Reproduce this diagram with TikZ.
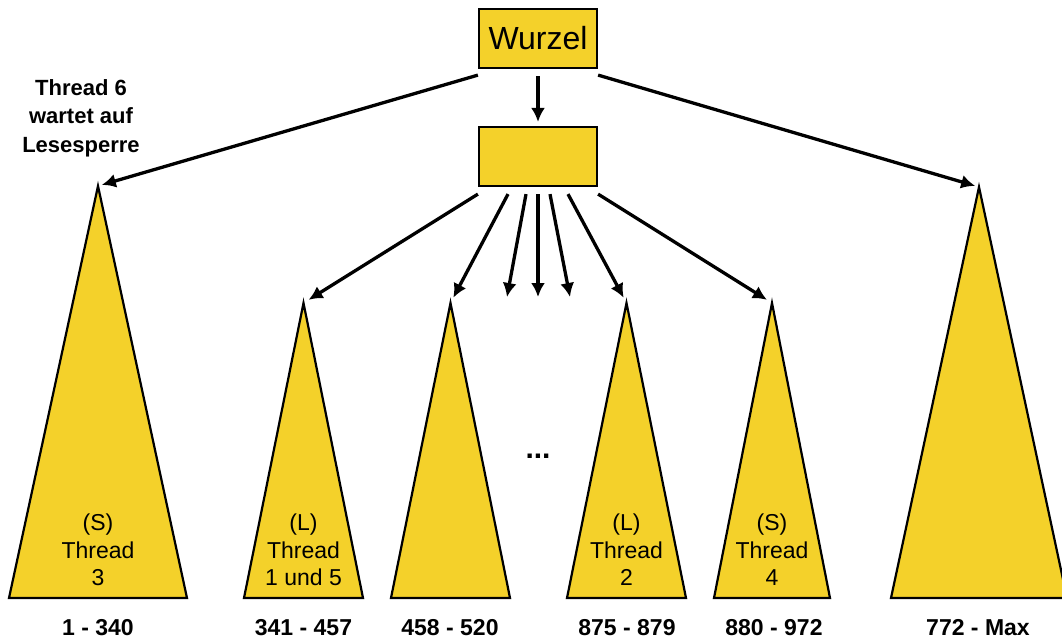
\documentclass[tikz,border=0pt]{standalone}
\usepackage{fontspec}
\setmainfont{Liberation Sans}
\usetikzlibrary{arrows.meta,positioning,calc}
\definecolor{ylw}{RGB}{244,209,42}

\begin{document}
\begin{tikzpicture}[x=1pt,y=-1pt,
    knot/.style={draw,fill=ylw,line width=2.2pt,minimum width=118pt,minimum height=59pt,inner sep=0pt},
    tri/.style={draw,fill=ylw,line width=2.2pt,line join=miter},
    pfeil/.style={line width=3.3pt,-{Latex[length=14pt,width=14pt]}},
    intext/.style={align=center,font=\fontsize{23}{27.5}\selectfont},
    bereich/.style={font=\bfseries\fontsize{23}{26}\selectfont}]
  \useasboundingbox (0,0) rectangle (1062,641);
  \clip (0,0) rectangle (1062,641);
  % Wurzel und innerer Knoten
  \node[knot,font=\fontsize{32}{36}\selectfont] (wurzel) at (538,38.5) {Wurzel};
  \node[knot] (mitte) at (538,156.5) {};
  % Teilbaeume: Name / Spitze x / Spitze y / halbe Breite
  \foreach \n/\x/\y/\b in {t1/98/186/89, t2/303.5/303/59.5, t3/450.5/303/59.5,
                          t4/626.5/303/59.5, t5/772/303/58, t6/979/187/88}{
    \draw[tri] (\x,\y) -- (\x+\b,598) -- (\x-\b,598) -- cycle;
    \coordinate (\n) at (\x,\y);
  }
  % offene Pfeilenden
  \coordinate (f1) at (507,297);
  \coordinate (f2) at (538,297);
  \coordinate (f3) at (570,297);
  % Pfeile
  \draw[pfeil,shorten >=4pt] ([yshift=-6pt]wurzel.south west) -- (t1);
  \draw[pfeil,shorten >=4pt] ([yshift=-6pt]wurzel.south east) -- (t6);
  \draw[pfeil,shorten <=7pt,shorten >=4pt] (wurzel.south) -- (mitte.north);
  \draw[pfeil,shorten >=6pt] ([yshift=-7pt]mitte.south west) -- (t2);
  \draw[pfeil,shorten >=6pt] ([xshift=-30pt,yshift=-7pt]mitte.south) -- (t3);
  \draw[pfeil] ([xshift=-12pt,yshift=-7pt]mitte.south) -- (f1);
  \draw[pfeil] ([yshift=-7pt]mitte.south) -- (f2);
  \draw[pfeil] ([xshift=12pt,yshift=-7pt]mitte.south) -- (f3);
  \draw[pfeil,shorten >=6pt] ([xshift=30pt,yshift=-7pt]mitte.south) -- (t4);
  \draw[pfeil,shorten >=6pt] ([yshift=-7pt]mitte.south east) -- (t5);
  % Beschriftungen in den Teilbaeumen
  \node[intext] (s1) at (98,550) {(S)\\Thread\\3};
  \node[intext] (s2) at (303.5,550) {(L)\\Thread\\1 und 5};
  \node[intext] (s4) at (626.5,550) {(L)\\Thread\\2};
  \node[intext] (s5) at (772,550) {(S)\\Thread\\4};
  \node[font=\bfseries\fontsize{30}{34}\selectfont] (dots) at (538,456) {...};
  % Schluesselbereiche
  \foreach \n/\x/\txt in {b1/98/1 - 340, b2/303.5/341 - 457, b3/450/458 - 520,
                          b4/627/875 - 879, b5/774/880 - 972, b6/978/772 - Max}{
    \node[bereich] (\n) at (\x,628) {\txt};
  }
  \node[align=center,font=\bfseries\fontsize{22}{28.5}\selectfont] (warte) at (81,118)
    {Thread 6\\wartet auf\\Lesesperre};
\end{tikzpicture}
\end{document}
